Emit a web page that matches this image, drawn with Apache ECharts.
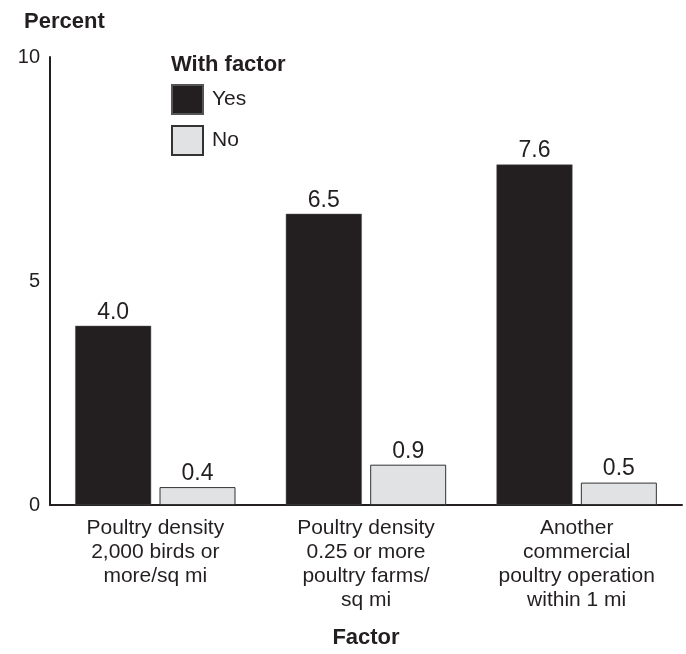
<!DOCTYPE html>
<html>
<head>
<meta charset="utf-8">
<script src="https://cdn.jsdelivr.net/npm/echarts@6/dist/echarts.min.js"></script>
<style>html,body{margin:0;padding:0;background:#fff}#c{width:686px;height:654px}</style>
</head>
<body>
<div id="c"></div>
<script>
const categories = [
  "Poultry density\n2,000 birds or\nmore/sq mi",
  "Poultry density\n0.25 or more\npoultry farms/\nsq mi",
  "Another\ncommercial\npoultry operation\nwithin 1 mi"
];
const yesValues = [4.0, 6.5, 7.6];
const noValues = [0.4, 0.9, 0.5];
const yTicks = [0, 5, 10];

const FONT = '"Liberation Sans", Arial, sans-serif';
const INK = '#231f20';

const chart = echarts.init(document.getElementById('c'), null, {renderer: 'canvas'});
chart.setOption({
  animation: false,
  textStyle: {fontFamily: FONT, color: INK},
  title: [
    {text: 'Percent', left: 19, top: 6, textStyle: {fontFamily: FONT, fontWeight: 'bold', fontSize: 22, color: INK}},
    {text: 'With factor', left: 166, top: 49, textStyle: {fontFamily: FONT, fontWeight: 'bold', fontSize: 22, color: INK}}
  ],
  legend: {
    orient: 'vertical',
    left: 166,
    top: 79,
    itemWidth: 31,
    itemHeight: 29,
    itemGap: 10,
    icon: 'rect',
    textStyle: {fontFamily: FONT, fontSize: 21, color: INK, padding: [0, 0, 0, 4]},
    data: ['Yes', 'No']
  },
  grid: {left: 50, right: 4, top: 57, bottom: 147, containLabel: false},
  xAxis: {
    type: 'category',
    data: categories,
    axisLine: {show: true, lineStyle: {color: INK, width: 2}},
    axisTick: {show: false},
    axisLabel: {fontFamily: FONT, fontSize: 21, lineHeight: 24, color: INK, margin: 11, interval: 0},
    name: 'Factor',
    nameLocation: 'middle',
    nameGap: 122,
    nameTextStyle: {fontFamily: FONT, fontWeight: 'bold', fontSize: 22, color: INK}
  },
  yAxis: {
    type: 'value',
    min: yTicks[0],
    max: yTicks[yTicks.length - 1],
    interval: yTicks[1] - yTicks[0],
    axisLine: {show: true, lineStyle: {color: INK, width: 2}},
    axisTick: {show: false},
    splitLine: {show: false},
    axisLabel: {fontFamily: FONT, fontSize: 20, color: INK, margin: 10}
  },
  series: [
    {
      name: 'Yes', type: 'bar', data: yesValues,
      barWidth: 76, barGap: '11%',
      itemStyle: {color: INK, borderColor: '#555', borderWidth: 0.5},
      label: {show: true, position: 'top', distance: 2, fontFamily: FONT, fontSize: 23, color: INK,
              formatter: p => p.value.toFixed(1)}
    },
    {
      name: 'No', type: 'bar', data: noValues,
      barWidth: 76,
      itemStyle: {color: '#e1e2e3', borderColor: '#333', borderWidth: 1},
      label: {show: true, position: 'top', distance: 2, fontFamily: FONT, fontSize: 23, color: INK,
              formatter: p => p.value.toFixed(1)}
    }
  ]
});
</script>
</body>
</html>
